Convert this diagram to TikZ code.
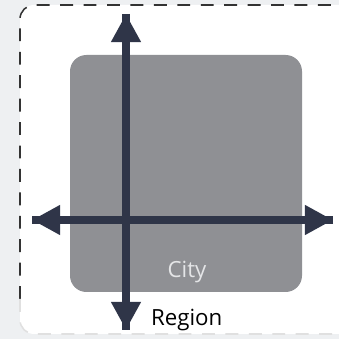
\documentclass[tikz,border=0pt]{standalone}
\usepackage{fontspec}
\setmainfont{Open Sans}
\usetikzlibrary{arrows.meta,positioning}

\definecolor{pagebg}{HTML}{EEF0F2}
\definecolor{axisblue}{HTML}{2F3548}
\definecolor{citygray}{HTML}{8F9094}
\definecolor{citytext}{HTML}{E4E5E7}

\tikzset{
  axis/.style={line width=6.6pt, axisblue, -{Triangle[length=24pt,width=24pt]}},
  panel/.style={rounded corners=12pt, line width=1.3pt, dash pattern=on 11pt off 9pt},
}

\begin{document}
\begin{tikzpicture}[x=0.03cm,y=0.03cm]
\useasboundingbox (0,0) rectangle (339,339);
\fill[pagebg] (0,0) rectangle (339,339);

% white panel with dashed edge
\begin{scope}
\clip (0,0) rectangle (339,339);
\fill[white, rounded corners=12pt] (20,5) rectangle (360,334);
\draw[panel, black!80] (20,40) -- (20,334) -- (360,334);
\draw[panel, black!12] (20,40) -- (20,5) -- (360,5);
\end{scope}

% the city block
\node (city) [fill=citygray, rounded corners=14pt, minimum width=232*0.03cm,
  minimum height=237*0.03cm] at (186,165.5) {};
\node (citylbl) [text=citytext, font=\fontsize{19}{21}\selectfont] at (187,67) {City};

% axes
\coordinate (top) at (126,325);
\coordinate (bottom) at (126,9);
\coordinate (left) at (32,119);
\coordinate (right) at (333,119);
\draw[axis] (bottom) -- (top);
\draw[axis] (left) -- (right);
\draw[axis] (top) -- (bottom);
\draw[axis] (right) -- (left);

\node (region) [anchor=west, font=\fontsize{19}{21}\selectfont] at (147,19) {Region};
\end{tikzpicture}
\end{document}
